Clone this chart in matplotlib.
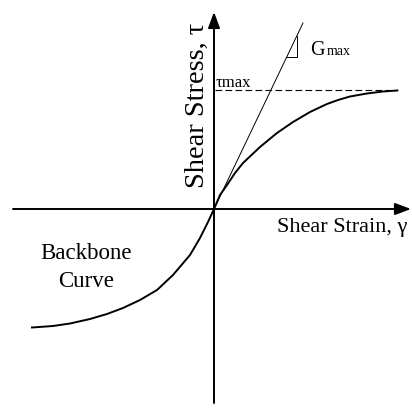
import numpy as np
import matplotlib
matplotlib.use('Agg')
import matplotlib.pyplot as plt

plt.rcParams['font.family'] = ['Liberation Serif', 'DejaVu Serif']

# backbone curve (strain, stress)
gamma = [-1.82, -1.61, -1.44, -1.24, -1.07, -0.91, -0.74, -0.57, -0.41, -0.24, -0.14, -0.06,
         0.0, 0.06, 0.13, 0.21, 0.29, 0.46, 0.63, 0.79, 0.96, 1.13, 1.24, 1.36, 1.53, 1.69, 1.83]
tau = [-1.185, -1.17, -1.145, -1.10, -1.05, -0.99, -0.91, -0.81, -0.66, -0.46, -0.29, -0.13,
       0.0, 0.14, 0.24, 0.36, 0.46, 0.62, 0.76, 0.87, 0.97, 1.05, 1.09, 1.125, 1.155, 1.175, 1.185]

tau_max = 1.19
gmax_line = [[0.0, 0.89], [0.0, 1.86]]   # initial stiffness line
tri_x = [0.727, 0.83, 0.83]
tri_y = [1.52, 1.52, 1.73]

fig = plt.figure(figsize=(4.12, 4.08), dpi=100)
ax = fig.add_axes([0, 0, 1, 1])
ax.set_xlim(-2.14, 1.98)
ax.set_ylim(-1.99, 2.09)
ax.axis('off')

# axes with arrows
ax.annotate('', xy=(1.97, 0), xytext=(-2.01, 0),
            arrowprops=dict(arrowstyle='-|>,head_length=0.8,head_width=0.3',
                            lw=1.4, color='k', mutation_scale=12, shrinkA=0, shrinkB=0))
ax.annotate('', xy=(0, 1.97), xytext=(0, -1.94),
            arrowprops=dict(arrowstyle='-|>,head_length=0.8,head_width=0.3',
                            lw=1.4, color='k', mutation_scale=12, shrinkA=0, shrinkB=0))

ax.plot(gamma, tau, color='k', lw=1.4, solid_joinstyle='round')
ax.plot(gmax_line[0], gmax_line[1], color='k', lw=0.7)
ax.plot(tri_x, tri_y, color='k', lw=0.7)
ax.plot([0.01, 1.84], [tau_max, tau_max], color='k', lw=0.8, dashes=(6, 3))

ax.text(0.02, 1.22, 'τmax', fontsize=12, ha='left', va='baseline')
ax.text(0.96, 1.54, 'G', fontsize=14.5, ha='left', va='baseline')
ax.text(1.13, 1.54, 'max', fontsize=10, ha='left', va='baseline')
ax.text(0.63, -0.23, 'Shear Strain, γ', fontsize=16, ha='left', va='baseline')
ax.text(-0.10, 1.04, 'Shear Stress, τ', fontsize=20.5, rotation=90,
        rotation_mode='anchor', ha='center', va='baseline')
ax.text(-1.28, -0.50, 'Backbone', fontsize=16.5, ha='center', va='baseline')
ax.text(-1.28, -0.78, 'Curve', fontsize=16.5, ha='center', va='baseline')

fig.savefig('out.png', dpi=100)
